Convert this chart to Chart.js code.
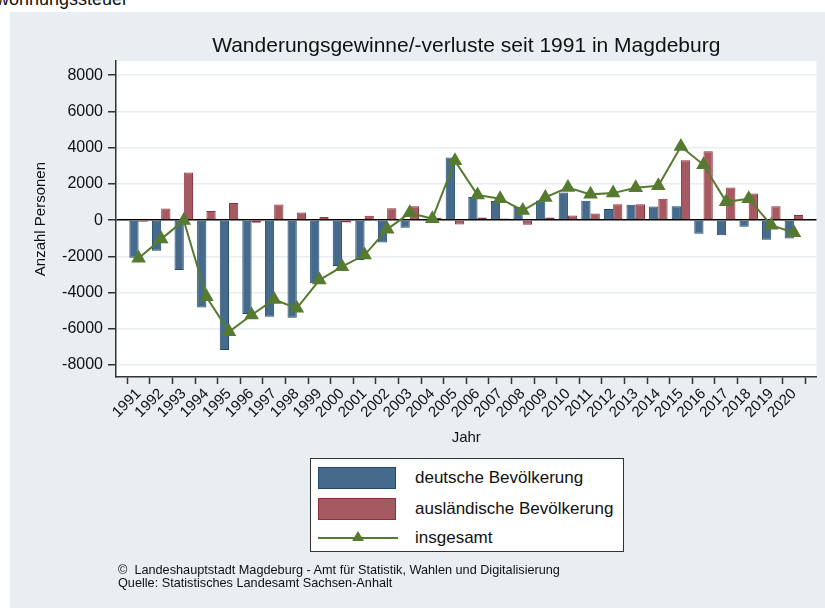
<!DOCTYPE html>
<html>
<head>
<meta charset="utf-8">
<script src="https://cdn.jsdelivr.net/npm/chart.js@4"></script>
<style>
  html, body { margin: 0; padding: 0; background: #fff; }
  body { width: 825px; height: 608px; position: relative; overflow: hidden; font-family: "Liberation Sans", Arial, sans-serif; }
  #bg { position: absolute; left: 10px; top: 12px; width: 815px; height: 596px; background: #e8eef1; }
  #cut { position: absolute; right: 697px; top: -11px; font-size: 18px; color: #111; white-space: nowrap; }
  #wrap { position: absolute; left: 0; top: 0; width: 825px; height: 608px; }
  #legend { position: absolute; left: 310px; top: 458px; width: 314px; height: 94px; background: #fff; border: 1px solid #333; box-sizing: border-box; }
  .item { position: absolute; left: 7px; height: 24px; width: 300px; }
  .sw { position: absolute; left: 0; top: 0; width: 78px; height: 22px; box-sizing: border-box; }
  .lbl { position: absolute; left: 97px; top: 1px; font-size: 17px; color: #111; white-space: nowrap; }
  #foot { position: absolute; left: 118px; top: 564px; font-size: 12.7px; line-height: 13px; color: #111; }
</style>
</head>
<body>
<div id="bg"></div>
<div id="cut">Zweitwohnungssteuer</div>
<div id="wrap"><canvas id="chart" width="825" height="608"></canvas></div>
<div id="legend">
  <div class="item" style="top:8px"><div class="sw" style="background:#466a8b;border:1px solid #1f4a6e"></div><div class="lbl">deutsche Bevölkerung</div></div>
  <div class="item" style="top:39px"><div class="sw" style="background:#a55a61;border:1px solid #8e2f39"></div><div class="lbl">ausländische Bevölkerung</div></div>
  <div class="item" style="top:70px">
    <svg width="80" height="22" style="position:absolute;left:0;top:0"><line x1="0" y1="9" x2="80" y2="9" stroke="#567a2f" stroke-width="2"/><polygon points="40,2 46,12 34,12" fill="#567a2f"/></svg>
    <div class="lbl" style="top:-1px">insgesamt</div>
  </div>
</div>
<div id="foot">©&nbsp; Landeshauptstadt Magdeburg - Amt für Statistik, Wahlen und Digitalisierung<br>Quelle: Statistisches Landesamt Sachsen-Anhalt</div>
<script>
var years = [1991,1992,1993,1994,1995,1996,1997,1998,1999,2000,2001,2002,2003,2004,2005,2006,2007,2008,2009,2010,2011,2012,2013,2014,2015,2016,2017,2018,2019,2020];
var deutsche = [-2080,-1690,-2760,-4820,-7170,-5180,-5330,-5390,-3490,-2540,-2200,-1230,-420,-70,3460,1270,1050,740,1080,1530,1070,610,850,750,770,-750,-830,-370,-1080,-1010];
var auslaendische = [-90,640,2630,500,940,-150,860,420,170,-130,240,660,770,130,-240,150,90,-260,150,260,370,880,880,1180,3310,3800,1800,1470,770,280];
var insgesamt = [-2100,-1050,-20,-4230,-6160,-5240,-4380,-4870,-3310,-2570,-1930,-510,400,70,3270,1380,1180,530,1250,1800,1420,1490,1780,1890,4060,3050,1010,1180,-280,-700];
var yTicks = [-8000,-7000,-6000,-5000,-4000,-3000,-2000,-1000,0,1000,2000,3000,4000,5000,6000,7000,8000];

function pts(vals) {
  return years.map(function (y, i) { return { x: y, y: vals[i] }; });
}

var plotBg = {
  id: 'plotBg',
  beforeDraw: function (chart) {
    var a = chart.chartArea, c = chart.ctx;
    c.save();
    c.fillStyle = '#ffffff';
    c.fillRect(a.left, a.top, a.right - a.left, a.bottom - a.top);
    c.restore();
  }
};

Chart.defaults.font.family = '"Liberation Sans", Arial, sans-serif';
Chart.defaults.color = '#111';

new Chart(document.getElementById('chart').getContext('2d'), {
  type: 'bar',
  data: {
    datasets: [
      {
        type: 'line',
        label: 'insgesamt',
        data: pts(insgesamt),
        borderColor: '#567a2f',
        backgroundColor: '#567a2f',
        borderWidth: 2,
        pointStyle: 'triangle',
        pointRadius: 6.5,
        pointBackgroundColor: '#567a2f',
        pointBorderColor: '#567a2f',
        tension: 0,
        order: 0
      },
      {
        label: 'deutsche Bevölkerung',
        data: pts(deutsche),
        backgroundColor: '#466a8b',
        borderColor: '#1f4a6e',
        borderWidth: 1,
        borderSkipped: false,
        categoryPercentage: 0.82,
        barPercentage: 1.0,
        order: 1
      },
      {
        label: 'ausländische Bevölkerung',
        data: pts(auslaendische),
        backgroundColor: '#a55a61',
        borderColor: '#8e2f39',
        borderWidth: 1,
        borderSkipped: false,
        categoryPercentage: 0.82,
        barPercentage: 1.0,
        order: 1
      }
    ]
  },
  options: {
    responsive: false,
    animation: false,
    layout: { padding: { top: 22, left: 30, right: 5, bottom: 161 } },
    plugins: {
      legend: { display: false },
      tooltip: { enabled: false },
      title: {
        display: true,
        fullSize: false,
        text: 'Wanderungsgewinne/-verluste seit 1991 in Magdeburg',
        font: { size: 21, weight: 'normal' },
        color: '#111',
        padding: { top: 12, bottom: 2 }
      }
    },
    scales: {
      x: {
        type: 'linear',
        min: 1990,
        max: 2021,
        offset: false,
        afterBuildTicks: function (s) { s.ticks = years.map(function (v) { return { value: v }; }); },
        afterFit: function (s) { s.height = 70; },
        ticks: {
          autoSkip: false,
          maxRotation: 45,
          minRotation: 45,
          padding: 1,
          font: { size: 15 },
          color: '#111',
          callback: function (v) { return String(v); }
        },
        grid: { drawOnChartArea: false, tickLength: 7, tickColor: '#333', tickWidth: 1.5 },
        border: { color: '#333', width: 1.5 },
        title: { display: true, text: 'Jahr', font: { size: 15 }, color: '#111', padding: 0 }
      },
      y: {
        min: -8660,
        max: 8770,
        afterBuildTicks: function (s) { s.ticks = yTicks.map(function (v) { return { value: v }; }); },
        afterFit: function (s) { s.width = 86; },
        ticks: {
          padding: 5,
          font: { size: 16 },
          color: '#111',
          callback: function (v) { return v % 2000 === 0 ? String(v) : ''; }
        },
        grid: {
          color: function (c) { return c.tick && c.tick.value === 0 ? '#000' : '#e8eef1'; },
          lineWidth: 1.5,
          tickLength: 8,
          tickColor: '#333',
          tickWidth: 1.5
        },
        border: { color: '#333', width: 1.5 },
        title: { display: true, text: 'Anzahl Personen', font: { size: 15 }, color: '#111', padding: { top: 2, bottom: 0 } }
      }
    }
  },
  plugins: [plotBg]
});
</script>
</body>
</html>
